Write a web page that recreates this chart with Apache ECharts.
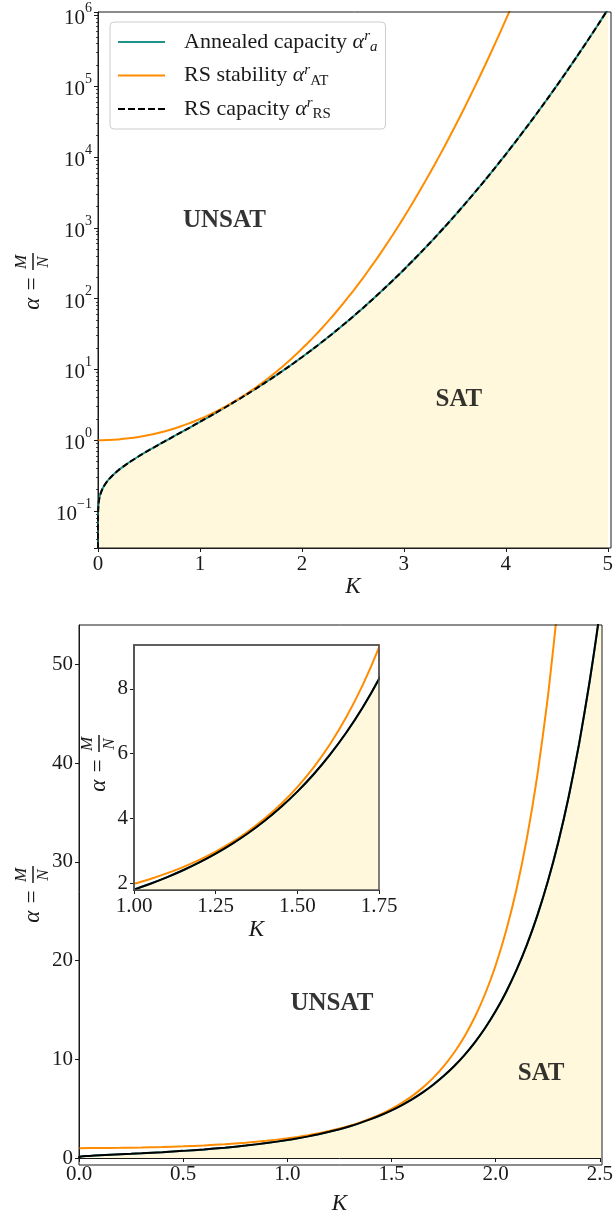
<!DOCTYPE html>
<html>
<head>
<meta charset="utf-8">
<script src="https://cdn.jsdelivr.net/npm/echarts@6.0.0/dist/echarts.min.js"></script>
<style>
  html, body { margin: 0; padding: 0; background: #fff; }
  #chart { width: 616px; height: 1216px; }
</style>
</head>
<body>
<div id="chart"></div>
<script>
// margin K grid for the capacity curve (tiny K values give the vertical drop at K=0)
const kA = [0, 1e-10, 1e-6, 1e-4, 0.001, 0.005, 0.01, 0.02,
  0.05, 0.1, 0.15, 0.2, 0.25, 0.3, 0.4, 0.5, 0.6, 0.7, 0.8, 0.9,
  1.0, 1.05, 1.1, 1.15, 1.2, 1.25, 1.3, 1.35, 1.4, 1.45, 1.5, 1.55, 1.6, 1.65, 1.7, 1.75,
  1.8, 1.85, 1.9, 1.95, 2.0, 2.05, 2.1, 2.15, 2.2, 2.25, 2.3, 2.35, 2.4, 2.45, 2.5,
  2.6, 2.7, 2.8, 2.9, 3.0, 3.1, 3.2, 3.3, 3.4, 3.5, 3.6, 3.7, 3.8, 3.9, 4.0,
  4.1, 4.2, 4.3, 4.4, 4.5, 4.6, 4.7, 4.8, 4.9, 5.0];

// annealed capacity alpha_a^r (RS capacity sits exactly on it)
const alphaA = [0, 0.02981, 0.04937, 0.07346, 0.09717, 0.12548, 0.14348, 0.16752,
  0.2151, 0.2740, 0.3259, 0.3763, 0.4272, 0.4798, 0.5932, 0.7221, 0.8717, 1.0479, 1.2578, 1.5098,
  1.8159, 1.9933, 2.1898, 2.4078, 2.6502, 2.9201, 3.2213, 3.5579, 3.9348, 4.3577, 4.8329, 5.3677, 5.9712, 6.6530, 7.4249, 8.3002,
  9.2949, 10.427, 11.719, 13.195, 14.885, 16.824, 19.052, 21.617, 24.580, 28.004, 31.970, 36.574, 41.928, 48.172, 55.465,
  74.01, 99.62, 135.3, 185.4, 256.4, 357.8, 504.0, 716.6, 1028, 1489, 2178, 3215, 4790, 7206, 10943,
  16777, 25968, 40583, 64032, 102002, 164058, 266431, 436859, 723264, 1209048];
const alphaRS = alphaA;

// RS stability (AT line)
const kAT = [0, 0.1, 0.2, 0.3, 0.4, 0.5, 0.6, 0.7, 0.8, 0.9,
  1.0, 1.05, 1.1, 1.15, 1.2, 1.25, 1.3, 1.35, 1.4, 1.45, 1.5, 1.55, 1.6, 1.65, 1.7, 1.75,
  1.8, 1.85, 1.9, 1.95, 2.0, 2.05, 2.1, 2.15, 2.2, 2.25, 2.3, 2.35, 2.4,
  2.5, 2.6, 2.7, 2.8, 2.9, 3.0, 3.1, 3.2, 3.3, 3.4, 3.5, 3.6, 3.7, 3.8, 3.9, 4.0, 4.1, 4.2];
const alphaAT = [1.0, 1.0067, 1.0271, 1.0620, 1.1132, 1.1830, 1.2749, 1.3936, 1.5459, 1.7405,
  1.9900, 2.1405, 2.3115, 2.5065, 2.7288, 2.9834, 3.2756, 3.6123, 4.0001, 4.4496, 4.9719, 5.5807, 6.2928, 7.1293, 8.1144, 9.2798,
  10.664, 12.312, 14.280, 16.666, 19.534, 23.013, 27.247, 32.431, 38.793, 46.651, 56.397, 68.547, 83.725,
  126.98, 196.73, 311.43, 503.82, 832.6, 1406.7, 2428.2, 4283.5, 7721, 14224, 26772, 51486, 101166, 203062, 416387, 872287, 1866450, 4079300];

// region annotations [K, alpha, text]
const labelsTop = [[1.24, 1260, 'UNSAT'], [3.54, 3.8, 'SAT']];
const labelsBottom = [[1.214, 15.6, 'UNSAT'], [2.218, 8.6, 'SAT']];

const serif = 'Liberation Serif';
const ink = '#1a1a1a';
const teal = '#21918c';
const orange = '#ff8c00';
const fillColor = '#fff8dc';

const G_TOP = { left: 98, top: 12, width: 513, height: 536 };
const G_BOT = { left: 79, top: 625, width: 523, height: 540 };
const G_INS = { left: 134, top: 645, width: 245, height: 245 };

function pairs(xs, ys, positiveOnly) {
  const out = [];
  for (let i = 0; i < xs.length; i++) {
    if (!positiveOnly || ys[i] > 0) out.push([xs[i], ys[i]]);
  }
  return out;
}

function pow10Label(v) {
  const e = Math.log10(v);
  const n = Math.round(e);
  if (Math.abs(e - n) > 1e-6) return '';
  return '{b|10}{s|' + (n < 0 ? '\u2212' + (-n) : n) + '}';
}

const lineAxis = { show: true, onZero: false, lineStyle: { color: ink, width: 1 } };
const tickOut = { show: true, inside: false, length: 4, lineStyle: { color: ink } };

function xAxisFor(gi, min, max, interval, digits, nameGap, z) {
  return {
    type: 'value', gridIndex: gi, min: min, max: max, interval: interval, z: z,
    axisLine: lineAxis, axisTick: tickOut, splitLine: { show: false },
    axisLabel: { color: ink, fontFamily: serif, fontSize: 21, margin: 6,
      formatter: v => v.toFixed(digits) },
    name: 'K', nameLocation: 'middle', nameGap: nameGap,
    nameTextStyle: { fontFamily: serif, fontStyle: 'italic', fontSize: 23, color: ink }
  };
}

function curves(gi, positiveOnly, z) {
  return [
    {
      type: 'line', name: 'Annealed capacity', xAxisIndex: gi, yAxisIndex: gi,
      data: pairs(kA, alphaA, positiveOnly), symbol: 'none', smooth: 0.2, z: z,
      lineStyle: { color: teal, width: 2 }, itemStyle: { color: teal },
      areaStyle: { color: fillColor, opacity: 1, origin: 'start' }
    },
    {
      type: 'line', name: 'RS stability', xAxisIndex: gi, yAxisIndex: gi,
      data: pairs(kAT, alphaAT, positiveOnly), symbol: 'none', smooth: 0.2, z: z,
      lineStyle: { color: orange, width: 2 }, itemStyle: { color: orange }
    },
    {
      type: 'line', name: 'RS capacity', xAxisIndex: gi, yAxisIndex: gi,
      data: pairs(kA, alphaRS, positiveOnly), symbol: 'none', smooth: 0.2, z: z,
      lineStyle: { color: '#000', width: 2, type: [6, 3] }, itemStyle: { color: '#000' }
    }
  ];
}

function regionSeries(gi, items) {
  return {
    type: 'scatter', xAxisIndex: gi, yAxisIndex: gi, data: items, symbolSize: 0, z: 5,
    silent: true,
    label: { show: true, position: 'inside', formatter: p => p.value[2],
      fontFamily: serif, fontWeight: 'bold', fontSize: 25, color: '#000' }
  };
}

function yTitle(cx, cy) {
  const t = (text, x, y, size) => ({
    type: 'text', x: x, y: y, z: 10,
    style: { text: text, font: 'italic ' + size + 'px "' + serif + '"', fill: ink,
      textAlign: 'center', textVerticalAlign: 'middle', align: 'center', verticalAlign: 'middle' }
  });
  return {
    type: 'group', x: cx, y: cy, rotation: Math.PI / 2,
    children: [
      t('\u03b1 =', -12, 0, 23),
      t('M', 19, -11, 17),
      { type: 'line', z: 10, shape: { x1: 11, y1: 0, x2: 28, y2: 0 }, style: { stroke: ink, lineWidth: 1.5 } },
      t('N', 19, 11, 17)
    ]
  };
}

function frame(g, color, width, z, fill) {
  return {
    type: 'rect', z: z, silent: true,
    shape: { x: g.left, y: g.top, width: g.width, height: g.height },
    style: { fill: fill || 'none', stroke: color, lineWidth: width }
  };
}

const dashIcon = 'path://M0,0h7v2h-7z M10,0h7v2h-7z M20,0h7v2h-7z M30,0h7v2h-7z M40,0h7v2h-7z';

const chart = echarts.init(document.getElementById('chart'), null, { renderer: 'canvas' });

const option = {
  backgroundColor: '#fff',
  animation: false,
  grid: [
    Object.assign({ containLabel: false }, G_TOP),
    Object.assign({ containLabel: false }, G_BOT),
    Object.assign({ containLabel: false }, G_INS)
  ],
  legend: {
    data: [
      { name: 'Annealed capacity', icon: 'rect' },
      { name: 'RS stability', icon: 'rect' },
      { name: 'RS capacity', icon: dashIcon }
    ],
    orient: 'vertical', left: 110, top: 22,
    padding: [7, 8, 7, 8], itemGap: 7.5, itemWidth: 47, itemHeight: 2,
    symbolKeepAspect: false,
    backgroundColor: '#fff', borderColor: '#ccc', borderWidth: 1, borderRadius: 4,
    formatter: name => ({
      'Annealed capacity': 'Annealed capacity {m|\u03b1}{sup|r}{sub|a}',
      'RS stability': 'RS stability {m|\u03b1}{sup|r}{subr|AT}',
      'RS capacity': 'RS capacity {m|\u03b1}{sup|r}{subr|RS}'
    })[name],
    textStyle: {
      fontFamily: serif, fontSize: 22, color: ink, padding: [0, 0, 0, 14],
      rich: {
        m: { fontFamily: serif, fontSize: 22, fontStyle: 'italic', color: ink, lineHeight: 26 },
        sup: { fontFamily: serif, fontSize: 15, fontStyle: 'italic', color: ink, verticalAlign: 'top', lineHeight: 26 },
        sub: { fontFamily: serif, fontSize: 15, fontStyle: 'italic', color: ink, verticalAlign: 'bottom', lineHeight: 26 },
        subr: { fontFamily: serif, fontSize: 15, color: ink, verticalAlign: 'bottom', lineHeight: 26 }
      }
    }
  },
  xAxis: [
    xAxisFor(0, 0, 5, 1, 0, 27, 0),
    xAxisFor(1, 0, 2.5, 0.5, 1, 34, 0),
    xAxisFor(2, 1, 1.75, 0.25, 2, 28, 7)
  ],
  yAxis: [
    {
      type: 'log', gridIndex: 0, logBase: 10, min: 0.03, max: 1.12e6,
      axisLine: lineAxis, axisTick: tickOut, splitLine: { show: false },
      minorTick: { show: true, splitNumber: 9, length: 2, lineStyle: { color: ink, width: 0.8 } },
      axisLabel: {
        margin: 6, showMinLabel: false, showMaxLabel: false, formatter: pow10Label,
        rich: {
          b: { fontFamily: serif, fontSize: 21, color: ink, lineHeight: 28, verticalAlign: 'bottom' },
          s: { fontFamily: serif, fontSize: 14, color: ink, lineHeight: 28, verticalAlign: 'top' }
        }
      }
    },
    {
      type: 'value', gridIndex: 1, min: 0, max: 54, interval: 10,
      axisLine: lineAxis, axisTick: tickOut, splitLine: { show: false },
      axisLabel: { color: ink, fontFamily: serif, fontSize: 21, margin: 6, showMaxLabel: false }
    },
    {
      type: 'value', gridIndex: 2, min: 1.8, max: 9.35, splitNumber: 4, z: 7,
      axisLine: { show: true, onZero: false, lineStyle: { color: '#555', width: 1.5 } },
      axisTick: tickOut, splitLine: { show: false },
      axisLabel: { color: ink, fontFamily: serif, fontSize: 21, margin: 6,
        showMinLabel: false, showMaxLabel: false }
    }
  ],
  series: [].concat(
    curves(0, true, 2),
    curves(1, false, 2),
    curves(2, false, 4),
    [regionSeries(0, labelsTop), regionSeries(1, labelsBottom)]
  ),
  graphic: [
    frame(G_INS, '#555', 1.5, 3, '#fff'),
    frame(G_INS, '#555', 1.5, 8),
    frame(G_TOP, ink, 1, 8),
    frame(G_BOT, ink, 1, 8),
    yTitle(33, 281),
    yTitle(33, 894),
    yTitle(99, 763)
  ]
};

chart.setOption(option);
</script>
</body>
</html>
